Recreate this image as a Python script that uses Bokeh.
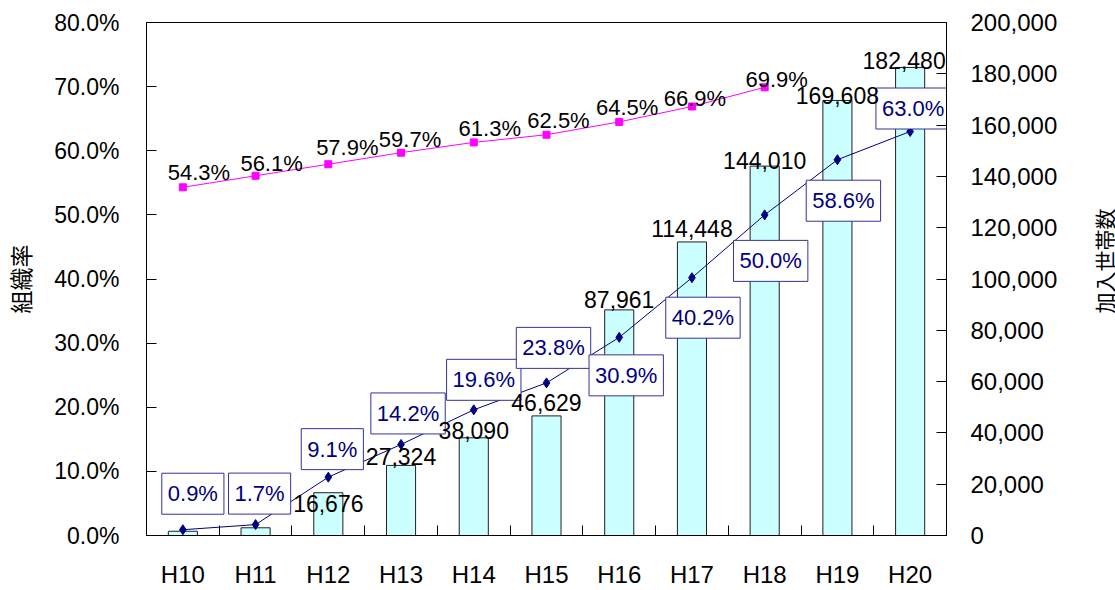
from bokeh.plotting import figure
from bokeh.layouts import row
from bokeh.models import (Range1d, LinearAxis, FixedTicker, NumeralTickFormatter,
                          ColumnDataSource, LabelSet)
from bokeh.core.properties import value
from bokeh.embed import file_html
from bokeh.resources import INLINE

# ---- data ----
categories = ["H10", "H11", "H12", "H13", "H14", "H15", "H16", "H17", "H18", "H19", "H20"]
households = [1653, 3007, 16676, 27324, 38090, 46629, 87961, 114448, 144010, 169608, 182480]
join_rate = [0.9, 1.7, 9.1, 14.2, 19.6, 23.8, 30.9, 40.2, 50.0, 58.6, 63.0]      # %
org_rate = [54.3, 56.1, 57.9, 59.7, 61.3, 62.5, 64.5, 66.9, 69.9]                # % (H10-H18)
left_ticks = [0, 10, 20, 30, 40, 50, 60, 70, 80]
right_ticks = [0, 20000, 40000, 60000, 80000, 100000, 120000, 140000, 160000, 180000, 200000]
left_title = "組織率"
right_title = "加入世帯数"

# ---- label placement (screen px: dx, dy up) ----
join_off = [(10, 36), (4, 31), (4, 28), (7, 31), (10, 30), (7, 35),
            (7, -38), (11, -40), (6, -46), (6, -41), (3, 23)]
org_off = [(16, 15), (16, 12), (19, 17), (9, 13), (16, 14), (12, 14), (8, 14), (3, 8), (12, 8)]
bar_off = [(0, -13), (0, -17), (0, -11), (0, 9), (0, 7), (0, 13), (0, 10), (0, 13), (0, 6), (0, 5), (-6, 7)]

FONT = "Liberation Sans"
CJK = "Noto Sans CJK JP"
NAVY = "#000080"

xs = [i + 0.5 for i in range(len(categories))]

p = figure(width=1080, height=590, output_backend="svg", toolbar_location=None,
           x_range=Range1d(0, len(categories)), y_range=Range1d(0, 0.8),
           min_border_left=145, min_border_right=134, min_border_top=22, min_border_bottom=54)
p.extra_y_ranges = {"count": Range1d(0, 200000)}
p.grid.visible = False
p.outline_line_color = "black"
p.outline_line_width = 1
p.background_fill_color = "white"
p.border_fill_color = "white"

# x axis
xa = p.below[0]
xa.ticker = FixedTicker(ticks=xs, minor_ticks=list(range(1, len(categories))))
xa.major_label_overrides = {x: c for x, c in zip(xs, categories)}
xa.major_tick_in = 0
xa.major_tick_out = 0
xa.minor_tick_in = 10
xa.minor_tick_out = 0
xa.minor_tick_line_color = "black"
xa.axis_line_color = "black"
xa.major_label_text_font = FONT
xa.major_label_text_font_size = "24px"
xa.major_label_text_color = "black"
xa.major_label_standoff = 25

# left axis
ya = p.left[0]
ya.ticker = FixedTicker(ticks=[t / 100 for t in left_ticks])
ya.formatter = NumeralTickFormatter(format="0.0%")
ya.major_tick_in = 10
ya.major_tick_out = 0
ya.minor_tick_line_color = None
ya.axis_line_color = "black"
ya.major_tick_line_color = "black"
ya.major_label_text_font = FONT
ya.major_label_text_font_size = "23px"
ya.major_label_text_color = "black"
ya.major_label_standoff = 27
ya.axis_label = left_title
ya.axis_label_text_font = CJK
ya.axis_label_text_font_style = "normal"
ya.axis_label_text_font_size = "23px"
ya.axis_label_text_color = "black"
ya.axis_label_standoff = 14

# right axis
ra = LinearAxis(y_range_name="count", ticker=FixedTicker(ticks=right_ticks),
                formatter=NumeralTickFormatter(format="0,0"))
ra.major_tick_in = 10
ra.major_tick_out = 0
ra.minor_tick_line_color = None
ra.axis_line_color = "black"
ra.major_tick_line_color = "black"
ra.major_label_text_font = FONT
ra.major_label_text_font_size = "24px"
ra.major_label_text_color = "black"
ra.major_label_standoff = 24
p.add_layout(ra, "right")

# bars
bar_src = ColumnDataSource(dict(
    x=xs, top=households,
    txt=[f"{v:,}" for v in households],
    dx=[o[0] for o in bar_off], dy=[o[1] for o in bar_off]))
p.vbar(x="x", top="top", width=0.4, source=bar_src, y_range_name="count",
       fill_color="#CCFFFF", line_color="#202020", line_width=1)

# join rate line
join_src = ColumnDataSource(dict(
    x=xs, y=[v / 100 for v in join_rate],
    txt=[f"{v:.1f}%" for v in join_rate],
    dx=[o[0] for o in join_off], ndy=[-o[1] for o in join_off]))
p.line("x", "y", source=join_src, line_color=NAVY, line_width=1)
p.scatter("x", "y", source=join_src, marker="diamond", size=10,
          fill_color=NAVY, line_color=NAVY)

# organisation rate line
org_src = ColumnDataSource(dict(
    x=xs[:len(org_rate)], y=[v / 100 for v in org_rate],
    txt=[f"{v:.1f}%" for v in org_rate],
    dx=[o[0] for o in org_off], dy=[o[1] for o in org_off]))
p.line("x", "y", source=org_src, line_color="#FF00FF", line_width=1)
p.scatter("x", "y", source=org_src, marker="square", size=7,
          fill_color="#FF00FF", line_color="#FF00FF")

# labels
p.add_layout(LabelSet(x="x", y="top", text="txt", source=bar_src, y_range_name="count",
                      x_offset="dx", y_offset="dy", text_align="center", text_baseline="middle",
                      text_font=value(FONT), text_font_size="23px", text_color="black"))
p.add_layout(LabelSet(x="x", y="y", text="txt", source=org_src,
                      x_offset="dx", y_offset="dy", text_align="center", text_baseline="middle",
                      text_font=value(FONT), text_font_size="22px", text_color="black"))
p.text(x="x", y="y", text="txt", source=join_src,
       x_offset="dx", y_offset="ndy", text_align="center", text_baseline="middle",
       text_font=value(FONT), text_font_size="22px", text_color=NAVY,
       background_fill_color="white", border_line_color="#333399",
       border_line_width=1, padding=dict(left=6, right=6, top=8, bottom=8))

# right-hand axis title (reads bottom-to-top) in a narrow side panel
t = figure(width=35, height=590, output_backend="svg", toolbar_location=None,
           x_range=Range1d(0, 1), y_range=Range1d(0, 1), min_border=0,
           x_axis_type=None, y_axis_type=None)
t.grid.visible = False
t.outline_line_color = None
t.background_fill_color = "white"
t.border_fill_color = "white"
t.text(x=[0.5], y=[0.5], text=[right_title], angle=90, angle_units="deg",
       x_offset=6, y_offset=-18, text_align="center", text_baseline="middle",
       text_font=value(CJK), text_font_size="21px", text_color="black")

layout = row(p, t, spacing=0)
open("out.html", "w").write(file_html(layout, INLINE))
